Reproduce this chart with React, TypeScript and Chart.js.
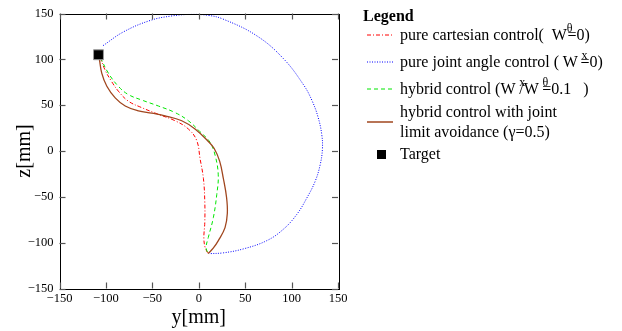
import React, { useEffect, useRef } from 'react';
import { Chart, registerables } from 'chart.js';

Chart.register(...registerables);

const tickValues = [-150, -100, -50, 0, 50, 100, 150];

const targetPoint = [[-108, 105]];

const cartesianPath = [
  [-106, 102], [-101, 88.5], [-94, 76], [-86.6, 65.3], [-76, 54.5], [-61.4, 47.3],
  [-43.5, 40], [-25.5, 33], [-11.2, 24], [-2.2, 11.5], [1.4, -8.3], [5, -29.8],
  [6.5, -55], [6.5, -78], [5.5, -95], [6.8, -105], [10, -112],
];

const jointPath = [
  [-103, 115], [-81, 130], [-52, 142.5], [-30, 147.2], [-9, 149], [10, 148], [26, 144],
  [62, 126], [91, 101], [113, 72], [122, 55], [128.5, 37], [132.5, 18], [133.2, 2],
  [130.7, -15.4], [125.3, -33.3], [116.4, -51.3], [105.6, -69.2], [91.2, -85.3],
  [73.3, -97.8], [48.1, -106.8], [26.5, -111.1], [11, -112],
];

const hybridPath = [
  [-106, 102], [-97.4, 85], [-86.6, 70.6], [-75.9, 61.6], [-61.4, 55.6], [-43.5, 49.1],
  [-25.5, 41.9], [-11.2, 33], [1.4, 21], [12, 9.7], [17.6, -4.6], [21, -26],
  [19.4, -47.6], [15.7, -72.8], [10.3, -94.3], [7.9, -105], [10, -112],
];

const avoidancePath = [
  [-107, 100], [-104.5, 85], [-99, 70.6], [-90, 58], [-79.2, 49.1], [-64.9, 43.7],
  [-50.6, 41.2], [-36.3, 38.4], [-18.3, 33], [-4, 24], [10.3, 10.4], [16.5, 3],
  [22.5, -11], [26.5, -30], [30, -51], [30.8, -68], [28.3, -83.6], [21.1, -97.8],
  [15.6, -106], [10, -112],
];

const SERIF = '"Liberation Serif", "Times New Roman", serif';
const RED = '#ff0000';
const BLUE = '#0000ff';
const GREEN = '#00e600';
const BROWN = '#a0461e';

const toPts = (a: number[][]) => a.map(([x, y]) => ({ x, y }));
const fmt = (v: any) => String(v).replace('-', '\u2212');

const framePlugin = {
  id: 'frame',
  afterDatasetsDraw(chart: any) {
    const { ctx, chartArea: a, scales } = chart;
    ctx.save();
    ctx.strokeStyle = '#000';
    ctx.lineWidth = 1;
    ctx.strokeRect(Math.round(a.left) + 0.5, Math.round(a.top) + 0.5, Math.round(a.right - a.left), Math.round(a.bottom - a.top));
    ctx.strokeStyle = '#555';
    ctx.lineWidth = 1.2;
    const L = 6;
    const line = (x1: number, y1: number, x2: number, y2: number) => {
      ctx.beginPath();
      ctx.moveTo(x1, y1);
      ctx.lineTo(x2, y2);
      ctx.stroke();
    };
    for (const v of tickValues) {
      const px = Math.round(scales.x.getPixelForValue(v)) + 0.5;
      line(px, a.bottom, px, a.bottom - L);
      line(px, a.top, px, a.top + L);
      const py = Math.round(scales.y.getPixelForValue(v)) + 0.5;
      line(a.left, py, a.left + L, py);
      line(a.right, py, a.right - L, py);
    }
    ctx.restore();
  },
};

const lineDs = (label: string, pts: number[][], color: string, dash: number[], width: number) => ({
  label,
  data: toPts(pts),
  showLine: true,
  borderColor: color,
  backgroundColor: color,
  borderWidth: width,
  borderDash: dash,
  pointRadius: 0,
  tension: 0.4,
  fill: false,
});

const Sup = ({ children, mr = -4, ml = 0 }: any) => (
  <span style={{ position: 'relative', top: -8, fontSize: 12, marginRight: mr, marginLeft: ml }}>{children}</span>
);

const Sample = ({ y, color, dash, width = 1 }: any) => (
  <svg style={{ position: 'absolute', left: 366, top: y - 3 }} width={28} height={6}>
    <line x1={1} y1={3} x2={27} y2={3} stroke={color} strokeWidth={width} strokeDasharray={dash} />
  </svg>
);

const Row = ({ y, children }: any) => (
  <div style={{ position: 'absolute', left: 400, top: y - 10, lineHeight: '20px', whiteSpace: 'pre' }}>{children}</div>
);

export default function App() {
  const ref = useRef<HTMLCanvasElement>(null);
  useEffect(() => {
    if (!ref.current) return;
    const tickOpts = {
      font: { family: SERIF, size: 12.5 },
      color: '#000',
      callback: (v: any) => fmt(v),
      maxRotation: 0,
      autoSkip: false,
    };
    const chart = new Chart(ref.current, {
      type: 'scatter',
      data: {
        datasets: [
          {
            label: 'Target',
            data: toPts(targetPoint),
            pointStyle: 'rect',
            pointRadius: 7,
            backgroundColor: '#000',
            borderColor: '#999',
            borderWidth: 1,
            showLine: false,
          } as any,
          lineDs('hybrid control with joint limit avoidance', avoidancePath, BROWN, [], 1.3),
          lineDs('hybrid control', hybridPath, GREEN, [4, 3], 1),
          lineDs('pure cartesian control', cartesianPath, RED, [4, 2, 1, 2], 1),
          lineDs('pure joint angle control', jointPath, BLUE, [1, 1.5], 1),
        ],
      },
      options: {
        animation: false,
        responsive: true,
        maintainAspectRatio: false,
        layout: { padding: { top: 9, right: 284, left: 0, bottom: 0 } },
        plugins: { legend: { display: false }, tooltip: { enabled: false } },
        scales: {
          x: {
            type: 'linear',
            min: -150,
            max: 150,
            afterBuildTicks: (s: any) => { s.ticks = tickValues.map((v) => ({ value: v })); },
            afterFit: (s: any) => { s.height = 42.5; },
            ticks: { ...tickOpts, padding: 3 },
            grid: { display: false, drawTicks: false },
            border: { display: false },
            title: { display: true, text: 'y[mm]', color: '#000', font: { family: SERIF, size: 20 }, padding: { top: 0, bottom: 1 } },
          },
          y: {
            type: 'linear',
            min: -150,
            max: 150,
            afterBuildTicks: (s: any) => { s.ticks = tickValues.map((v) => ({ value: v })); },
            afterFit: (s: any) => { s.width = 59.5; },
            ticks: { ...tickOpts, padding: 6 },
            grid: { display: false, drawTicks: false },
            border: { display: false },
            title: { display: true, text: 'z[mm]', color: '#000', font: { family: SERIF, size: 20 }, padding: { top: 13, bottom: 0 } },
          },
        },
      } as any,
      plugins: [framePlugin],
    });
    return () => chart.destroy();
  }, []);

  return (
    <div style={{ position: 'fixed', left: 0, top: 0, width: 622, height: 331, background: '#fff' }}>
      <canvas ref={ref} width={622} height={331} />
      <div style={{ position: 'absolute', left: 0, top: 0, width: 622, height: 331, fontFamily: SERIF, fontSize: 16, color: '#000', pointerEvents: 'none' }}>
        <div style={{ position: 'absolute', left: 363, top: 6, lineHeight: '20px', fontWeight: 'bold' }}>Legend</div>
        <Sample y={35} color={RED} dash="4 2 1 2" />
        <Row y={35}>pure cartesian control(  W<Sup mr={-5}>θ</Sup>=0)</Row>
        <Sample y={62} color={BLUE} dash="1 1.5" />
        <Row y={62}>pure joint angle control ( W <Sup mr={-7}>x</Sup>=0)</Row>
        <Sample y={89} color={GREEN} dash="4 3" />
        <Row y={89}>hybrid control (W <Sup mr={-6}>x</Sup>/W <Sup mr={-6}>θ</Sup>=0.1   )</Row>
        <Sample y={122} color={BROWN} dash="" width={1.5} />
        <Row y={112}>hybrid control with joint</Row>
        <Row y={132}>limit avoidance (γ=0.5)</Row>
        <div style={{ position: 'absolute', left: 377, top: 150, width: 9, height: 9, background: '#000' }} />
        <Row y={154}>Target</Row>
      </div>
    </div>
  );
}
